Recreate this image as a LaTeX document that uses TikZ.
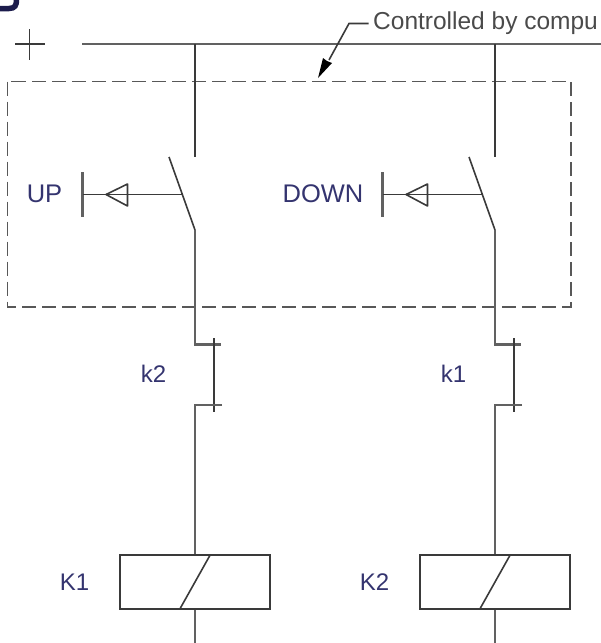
\documentclass[tikz,border=0pt]{standalone}
\usepackage{fontspec}
\setmainfont{Liberation Sans}
\definecolor{wire}{HTML}{3A3A3A}
\definecolor{lab}{HTML}{34346F}
\definecolor{frag}{HTML}{1C1C4C}
\definecolor{notecol}{HTML}{4A4A4A}
\tikzset{
  wireline/.style={draw=wire,line width=1.6pt},
  barline/.style={draw=wire!80,line width=2.1pt},
  dashbox/.style={draw=wire!85,line width=1.6pt,dash pattern=on 14pt off 6pt},
  lbl/.style={text=lab,font=\fontsize{24}{26}\selectfont,inner sep=0pt},
  biglbl/.style={text=lab,font=\fontsize{25.5}{27}\selectfont,inner sep=0pt},
  notelbl/.style={text=notecol,font=\fontsize{24.5}{26}\selectfont,inner sep=0pt,anchor=west},
  coil/.style={draw=wire,line width=1.8pt,minimum width=150pt,minimum height=53.5pt,inner sep=0pt}
}
\begin{document}
\begin{tikzpicture}[x=1pt,y=-1pt]
\useasboundingbox (0,0) rectangle (601,643);
% fragment of a letter at the top left
\draw[draw=frag,line width=5.5pt,line cap=round] (0,8.5) -- (9,8.5) .. controls (15,8.5) and (16.5,5) .. (16.5,0);
% plus sign
\coordinate (pw) at (15,44); \coordinate (pe) at (45,44);
\coordinate (pn) at (29.5,29); \coordinate (ps) at (29.5,60);
\draw[wireline] (pw) -- (pe) (pn) -- (ps);
% bus
\coordinate (busw) at (82,44); \coordinate (buse) at (601,44);
\draw[barline] (busw) -- (buse);
% dashed box
\coordinate (boxnw) at (7.5,81.5); \coordinate (boxse) at (571,307);
\draw[dashbox] (boxnw) rectangle (boxse);
% note
\node[notelbl] (note) at (373,23) {Controlled by compu};
\coordinate (noteend) at (368.5,23.5);
\coordinate (elbow) at (349,23.5);
\coordinate (tip) at (318,78);
\draw[draw=wire,line width=1.6pt] (noteend) -- (elbow) -- (329,60);
\fill[black] (tip) -- (323,58) -- (327,61) -- (332,63) -- cycle;
% columns
\foreach \dx/\nm/\kn/\cn/\coilnm in {0/L/k2/K1/coilL,300/R/k1/K2/coilR}{
  \begin{scope}[xshift=\dx pt]
    \coordinate (\nm top) at (195,44);
    \coordinate (\nm a) at (195,157);
    \coordinate (\nm blade) at (169,157);
    \coordinate (\nm b) at (195,230);
    \coordinate (\nm mid) at (182,194.5);
    \coordinate (\nm c) at (195,344.5);
    \coordinate (\nm d) at (221,344.5);
    \coordinate (\nm e) at (214,338);
    \coordinate (\nm f) at (214,412);
    \coordinate (\nm g) at (222,405);
    \coordinate (\nm h) at (195,405);
    \coordinate (\nm bar1) at (82.5,172);
    \coordinate (\nm bar2) at (82.5,217);
    \coordinate (\nm barm) at (82.5,194.5);
    \coordinate (\nm tri1) at (106,194.5);
    \coordinate (\nm tri2) at (127.5,184);
    \coordinate (\nm tri3) at (127.5,206);
    \coordinate (\nm bot) at (195,643);
    \node[coil] (\coilnm) at (195,582) {};
    \draw[wireline] (\nm top) -- (\nm a);
    \draw[wireline] (\nm blade) -- (\nm b);
    \draw[barline] (\nm b) -- (\nm c) -- (\nm d);
    \draw[wireline] (\nm e) -- (\nm f);
    \draw[barline] (\nm g) -- (\nm h) -- (\coilnm.north);
    \draw[barline] (\coilnm.south) -- (\nm bot);
    \draw[barline] (\nm bar1) -- (\nm bar2);
    \draw[wireline] (\nm barm) -- (\nm mid);
    \draw[wireline,line join=round] (\nm tri1) -- (\nm tri2) -- (\nm tri3) -- cycle;
    \draw[wireline] (210,555.25) -- (180,608.75);
    \node[lbl] (\nm klab) at (153.5,374) {\kn};
    \node[lbl] (\nm clab) at (74.5,582) {\cn};
  \end{scope}
}
\node[biglbl] (up) at (44.5,194) {UP};
\node[biglbl] (down) at (323,194) {DOWN};
\end{tikzpicture}
\end{document}
